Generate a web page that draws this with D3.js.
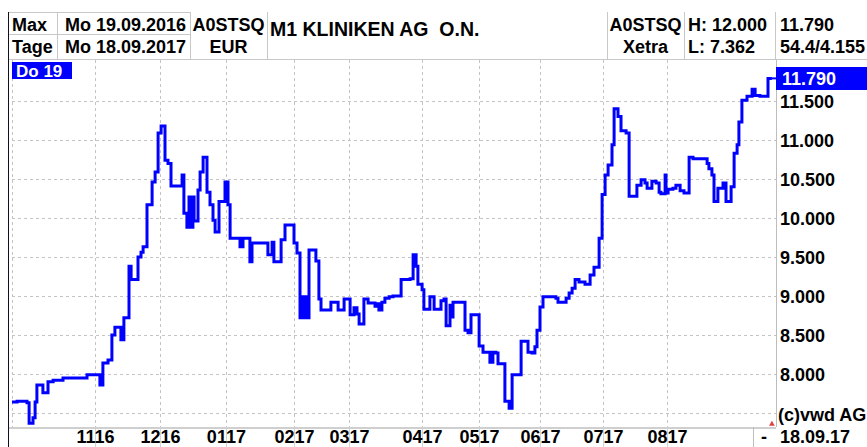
<!DOCTYPE html>
<html><head><meta charset="utf-8">
<script src="https://cdn.jsdelivr.net/npm/d3@7"></script>
<style>
html,body{margin:0;padding:0;background:#fff;}
svg{display:block;font-family:"Liberation Sans",Arial,sans-serif;font-weight:bold;}
</style></head><body>
<svg id="c" width="867" height="447"></svg>
<script>
// ---- data (trading-day index, price in EUR) ----
const days = [0,1.7,5,5.7,7,7.7,8.3,10.3,12,13.7,17,25,29.3,30.3,32,33.3,34.3,36.3,37.3,39,39.7,42,43,43.7,45,46.7,47.7,48.7,49.7,51,52,53,56.7,57.3,58.3,59,59.7,60.3,60.7,62,62.7,63.7,65,66,67,67.7,69,71,72,72.7,76,77,78,79.3,80,85.3,86.7,87.3,89.7,91,94,95,96,96.7,97.3,98,98.7,99,101.3,102.3,103,106.3,108.7,110.7,112.7,114,115,115.7,117.3,118.7,121,121.7,122.3,123.3,124.3,125.7,127,129.7,132.7,133.7,134.7,135.3,136.7,137.3,139.3,140.7,143,144,144.7,146,146.3,147,151,152,153,155.7,157,159.3,160.3,161.3,162,164.3,165.7,166.7,169.7,172,173.3,174.3,175,176,177,181.3,182,184.7,185.7,186.7,187.7,189,191,192.7,194,195.7,196.7,197.7,198.7,200,200.7,202,203,204.7,205.7,208.3,209.7,211,211.7,213.3,214.7,215.7,216.3,217.7,218,218.7,220.3,221.3,222.7,224,225.7,227,231.7,232.3,233.3,234,235.3,237,238,239.7,240.7,241.7,242.3,243.3,245,246.7,247.7,249.3,252,253.3];
const prices = [7.64,7.65,7.63,7.37,7.44,7.64,7.86,7.76,7.90,7.92,7.95,7.99,7.86,8.14,8.18,8.50,8.60,8.44,8.72,9.38,9.21,9.50,9.56,9.63,10.17,10.46,10.59,11.09,11.18,10.74,10.70,10.41,10.55,10.06,9.88,10.27,9.88,10.27,9.96,10.36,10.59,10.78,10.33,10.17,9.97,9.82,10.21,10.46,10.17,9.74,9.63,9.74,9.74,9.44,9.68,9.53,9.69,9.44,9.72,9.91,9.68,9.55,8.72,8.99,8.72,8.99,8.72,9.59,9.45,8.96,8.82,8.92,8.82,8.96,8.76,8.85,8.77,8.64,8.96,8.91,8.87,8.90,8.82,8.92,8.97,8.99,9.00,9.21,9.22,9.53,9.38,9.15,9.08,8.83,8.99,8.83,8.94,8.96,8.62,8.88,8.73,8.92,8.56,8.53,8.76,8.36,8.28,8.15,8.28,8.27,8.13,7.65,7.56,7.99,8.42,8.28,8.27,8.35,8.56,8.86,8.99,8.97,8.92,8.97,9.04,9.10,9.21,9.18,9.15,9.27,9.37,9.74,10.30,10.55,10.68,10.94,11.40,11.30,11.12,11.09,10.28,10.42,10.49,10.45,10.38,10.47,10.45,10.33,10.31,10.55,10.32,10.37,10.38,10.42,10.35,10.32,10.78,10.76,10.70,10.63,10.55,10.21,10.38,10.45,10.21,10.40,10.83,10.94,11.23,11.51,11.56,11.65,11.57,11.56,11.79,11.79];
const monthTicks = [27.7,49.3,71.3,94,112.3,136.7,155.7,176,197,218.3];
const monthLabels = ["1116","1216","0117","0217","0317","0417","0517","0617","0717","0817"];
const gridPrices = [7.5,8,8.5,9,9.5,10,10.5,11,11.5];
const labelPrices = [8,8.5,9,9.5,10,10.5,11,11.5];
const lastPrice = 11.790;
const lastDayLabel = "Do 19";
const headerLeft = [["Max","Mo 19.09.2016","A0STSQ"],["Tage","Mo 18.09.2017","EUR"]];
const title = "M1 KLINIKEN AG  O.N.";
const headerRight = [["A0STSQ","H: 12.000","11.790"],["Xetra","L: 7.362","54.4/4.155"]];
const endDate = "18.09.17";
const copyright = "(c)vwd AG";

const svg = d3.select("#c");
const W = 867, H = 447;
const plotL = 12, plotR = 776, plotT = 60, plotB = 427;

const x = d3.scaleLinear().domain([0, 253.33]).range([12, 772]);
const y = d3.scaleLinear().domain([7.3205, 12.0256]).range([plotB, plotT]);

const gridCol = "#c4c4c4", lineCol = "#c8c8c8";

// header table lines
const hl = svg.append("g").attr("stroke", lineCol).attr("stroke-width", 1).attr("shape-rendering","crispEdges");
hl.append("line").attr("x1",8).attr("x2",190).attr("y1",12.5).attr("y2",12.5);
hl.append("line").attr("x1",8).attr("x2",190).attr("y1",34.5).attr("y2",34.5);
hl.append("line").attr("x1",8).attr("x2",W).attr("y1",59.5).attr("y2",59.5);
[57.5,190.5,267.5,607.5,684.5,775.5].forEach(v=>hl.append("line").attr("x1",v).attr("x2",v).attr("y1",12).attr("y2",59));

// header text
const ht = svg.append("g").attr("font-size", 18).attr("fill", "#000");
const rowsY = [31, 53];
headerLeft.forEach((r,i)=>{
  ht.append("text").attr("x",12).attr("y",rowsY[i]).text(r[0]);
  ht.append("text").attr("x",65).attr("y",rowsY[i]).text(r[1]);
  ht.append("text").attr("x",228.5).attr("y",rowsY[i]).attr("text-anchor","middle").text(r[2]);
});
ht.append("text").attr("x",270).attr("y",36).attr("font-size",19.5).style("white-space","pre").text(title);
headerRight.forEach((r,i)=>{
  ht.append("text").attr("x",645.5).attr("y",rowsY[i]).attr("text-anchor","middle").text(r[0]);
  ht.append("text").attr("x",688).attr("y",rowsY[i]).text(r[1]);
  ht.append("text").attr("x",780).attr("y",rowsY[i]).text(r[2]);
});

// grid
const g = svg.append("g").attr("stroke", gridCol).attr("stroke-width",1).attr("stroke-dasharray","3,3").attr("shape-rendering","crispEdges");
g.selectAll("line.h").data(gridPrices).join("line").attr("class","h")
  .attr("x1",plotL).attr("x2",plotR).attr("y1",d=>Math.round(y(d))+0.5).attr("y2",d=>Math.round(y(d))+0.5);
g.append("line").attr("x1",plotL+0.5).attr("x2",plotL+0.5).attr("y1",plotT).attr("y2",plotB);
g.selectAll("line.v").data(monthTicks).join("line").attr("class","v")
  .attr("x1",d=>Math.round(x(d))+0.5).attr("x2",d=>Math.round(x(d))+0.5).attr("y1",plotT).attr("y2",plotB);

// tick extensions through label band
svg.append("g").attr("stroke","#d4d4d4").attr("shape-rendering","crispEdges")
  .selectAll("line").data(monthTicks).join("line")
  .attr("x1",d=>Math.round(x(d))+0.5).attr("x2",d=>Math.round(x(d))+0.5).attr("y1",plotB).attr("y2",H);

// frame
const fr = svg.append("g").attr("shape-rendering","crispEdges");
fr.append("line").attr("x1",8).attr("x2",plotR).attr("y1",plotB+0.5).attr("y2",plotB+0.5).attr("stroke","#cfcfcf").attr("stroke-width",2);
fr.append("line").attr("x1",plotR+0.5).attr("x2",plotR+0.5).attr("y1",plotT).attr("y2",plotB).attr("stroke","#bdbdbd");
fr.append("line").attr("x1",753.5).attr("x2",753.5).attr("y1",plotB).attr("y2",H).attr("stroke","#bdbdbd");
fr.append("line").attr("x1",8.5).attr("x2",8.5).attr("y1",12).attr("y2",H).attr("stroke","#101020");

// x labels via axis
const xAxis = d3.axisBottom(x).tickValues(monthTicks).tickFormat((d,i)=>monthLabels[i]).tickSize(0).tickPadding(0);
const xg = svg.append("g").attr("transform",`translate(0,${plotB})`).call(xAxis);
xg.select(".domain").remove();
xg.selectAll("text").attr("font-size",18).attr("font-family",null).attr("font-weight","bold").attr("fill","#000").attr("dy",null).attr("y",16);

// y labels via axis
const yAxis = d3.axisRight(y).tickValues(labelPrices).tickFormat(d3.format(".3f")).tickSize(0).tickPadding(4);
const yg = svg.append("g").attr("transform",`translate(${plotR},0)`).call(yAxis);
yg.select(".domain").remove();
yg.selectAll("text").attr("font-size",18).attr("font-family",null).attr("font-weight","bold").attr("fill","#000").attr("dy","0.36em");

// price line
const pts = days.map((d,i)=>[d, prices[i]]);
svg.append("path").datum(pts)
  .attr("fill","none").attr("stroke","#0000ff").attr("stroke-width",3).attr("stroke-linejoin","miter")
  .attr("d", d3.line().x(d=>x(d[0])).y(d=>y(d[1])).curve(d3.curveStepAfter));

// last price box
const ly = y(lastPrice);
svg.append("rect").attr("x",776).attr("y",Math.round(ly)-11).attr("width",W-776).attr("height",23).attr("fill","#0000ff");
svg.append("line").attr("x1",x(days[days.length-1])).attr("x2",782).attr("y1",ly).attr("y2",ly).attr("stroke","#0000ff").attr("stroke-width",2);
svg.append("text").attr("x",782).attr("y",Math.round(ly)+7).attr("font-size",18).attr("fill","#fff").text(d3.format(".3f")(lastPrice));

// day label box
svg.append("rect").attr("x",12).attr("y",62).attr("width",60).attr("height",17).attr("fill","#0000ff");
svg.append("text").attr("x",16).attr("y",77).attr("font-size",17).attr("fill","#fff").style("white-space","pre").text(lastDayLabel);

// bottom right
svg.append("text").attr("x",778).attr("y",421).attr("font-size",18).attr("fill","#000").text(copyright);
svg.append("text").attr("x",780).attr("y",443).attr("font-size",18).attr("fill","#000").text(endDate);
svg.append("text").attr("x",761).attr("y",443).attr("font-size",18).attr("fill","#000").text("-");
svg.append("path").attr("d",d3.symbol(d3.symbolTriangle,14)()).attr("transform",`translate(${x(days[days.length-1])},${plotB-3})`).attr("fill","#e04040");
</script></body></html>
